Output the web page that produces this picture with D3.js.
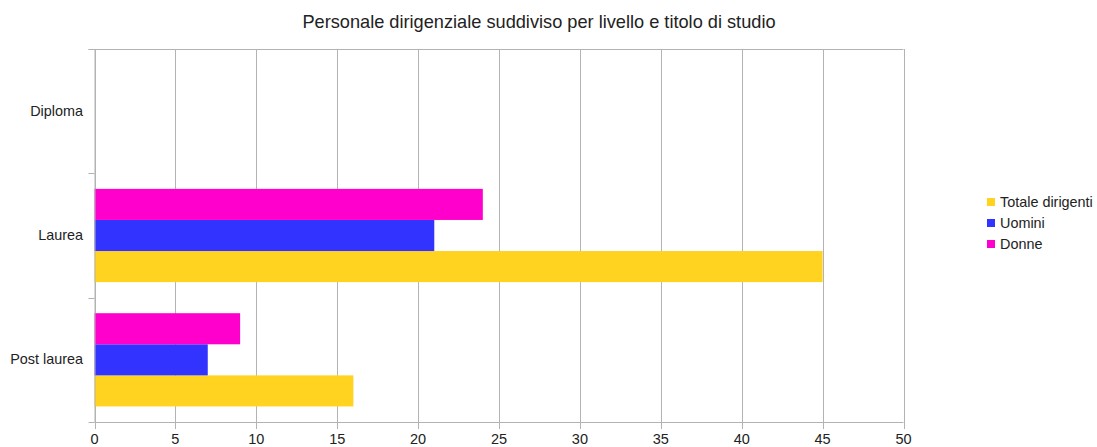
<!DOCTYPE html>
<html><head><meta charset="utf-8">
<script src="https://cdn.jsdelivr.net/npm/d3@7"></script>
<style>body{margin:0;background:#fff}svg{display:block;font-family:"Liberation Sans",Arial,sans-serif}</style>
</head><body><svg id="c" width="1097" height="447"></svg>
<script>
const categories = ["Diploma", "Laurea", "Post laurea"];
const seriesNames = ["Totale dirigenti", "Uomini", "Donne"];
const totale = [0, 45, 16];
const uomini = [0, 21, 7];
const donne = [0, 24, 9];
const xTicks = [0, 5, 10, 15, 20, 25, 30, 35, 40, 45, 50];
const colors = ["#ffd320", "#3333ff", "#ff00cc"];
const title = "Personale dirigenziale suddiviso per livello e titolo di studio";

const svg = d3.select("#c");
const L = 94.5, R = 903.5, T = 49, B = 422;
const x = d3.scaleLinear().domain([0, 50]).range([L, R]);
const y = d3.scaleBand().domain(categories).range([T, B]).paddingInner(0).paddingOuter(0);
const inner = d3.scaleBand().domain(["Donne", "Uomini", "Totale dirigenti"]).range([0, y.bandwidth()]).paddingInner(0).paddingOuter(0.5);
const seriesVals = {"Totale dirigenti": totale, "Uomini": uomini, "Donne": donne};

svg.append("text").attr("x", 539).attr("y", 28).attr("text-anchor", "middle")
  .attr("font-size", 18.2).attr("fill", "#222").text(title);

// grid
svg.append("g").selectAll("line").data(xTicks).join("line")
  .attr("x1", d => Math.round(x(d)) + 0.5).attr("x2", d => Math.round(x(d)) + 0.5)
  .attr("y1", T).attr("y2", B + 7).attr("stroke", "#b3b3b3");
// top line
svg.append("line").attr("x1", L - 6).attr("x2", R).attr("y1", T + 0.5).attr("y2", T + 0.5).attr("stroke", "#b3b3b3");
// category ticks
const catBounds = [T, ...categories.slice(1).map(c => y(c)), B];
svg.append("g").selectAll("line").data(catBounds).join("line")
  .attr("x1", L - 6).attr("x2", L).attr("y1", d => Math.round(d) + 0.5).attr("y2", d => Math.round(d) + 0.5)
  .attr("stroke", "#b3b3b3");

// bars
seriesNames.forEach((s, si) => {
  svg.append("g").selectAll("rect").data(categories).join("rect")
    .attr("x", x(0))
    .attr("y", c => y(c) + inner(s))
    .attr("width", (c, i) => x(seriesVals[s][i]) - x(0))
    .attr("height", inner.bandwidth())
    .attr("fill", colors[si]);
});

// axes lines
svg.append("line").attr("x1", L).attr("x2", R).attr("y1", B + 0.5).attr("y2", B + 0.5).attr("stroke", "#b3b3b3");
svg.append("line").attr("x1", L + 0.5).attr("x2", L + 0.5).attr("y1", T).attr("y2", B).attr("stroke", "#b3b3b3");

// x labels
svg.append("g").selectAll("text").data(xTicks).join("text")
  .attr("x", d => x(d)).attr("y", 444).attr("text-anchor", "middle")
  .attr("font-size", 14.5).attr("fill", "#222").text(d => d);
// category labels
svg.append("g").selectAll("text").data(categories).join("text")
  .attr("x", 83).attr("y", c => y(c) + y.bandwidth() / 2 + 4.5).attr("text-anchor", "end")
  .attr("font-size", 14.4).attr("fill", "#222").text(c => c);

// legend
const lg = svg.append("g");
seriesNames.forEach((s, i) => {
  const yy = 198 + i * 21;
  lg.append("rect").attr("x", 987).attr("y", yy).attr("width", 8).attr("height", 8).attr("fill", colors[i]);
  lg.append("text").attr("x", 1000).attr("y", yy + 9).attr("font-size", 14.4).attr("fill", "#222").text(s);
});
</script></body></html>
